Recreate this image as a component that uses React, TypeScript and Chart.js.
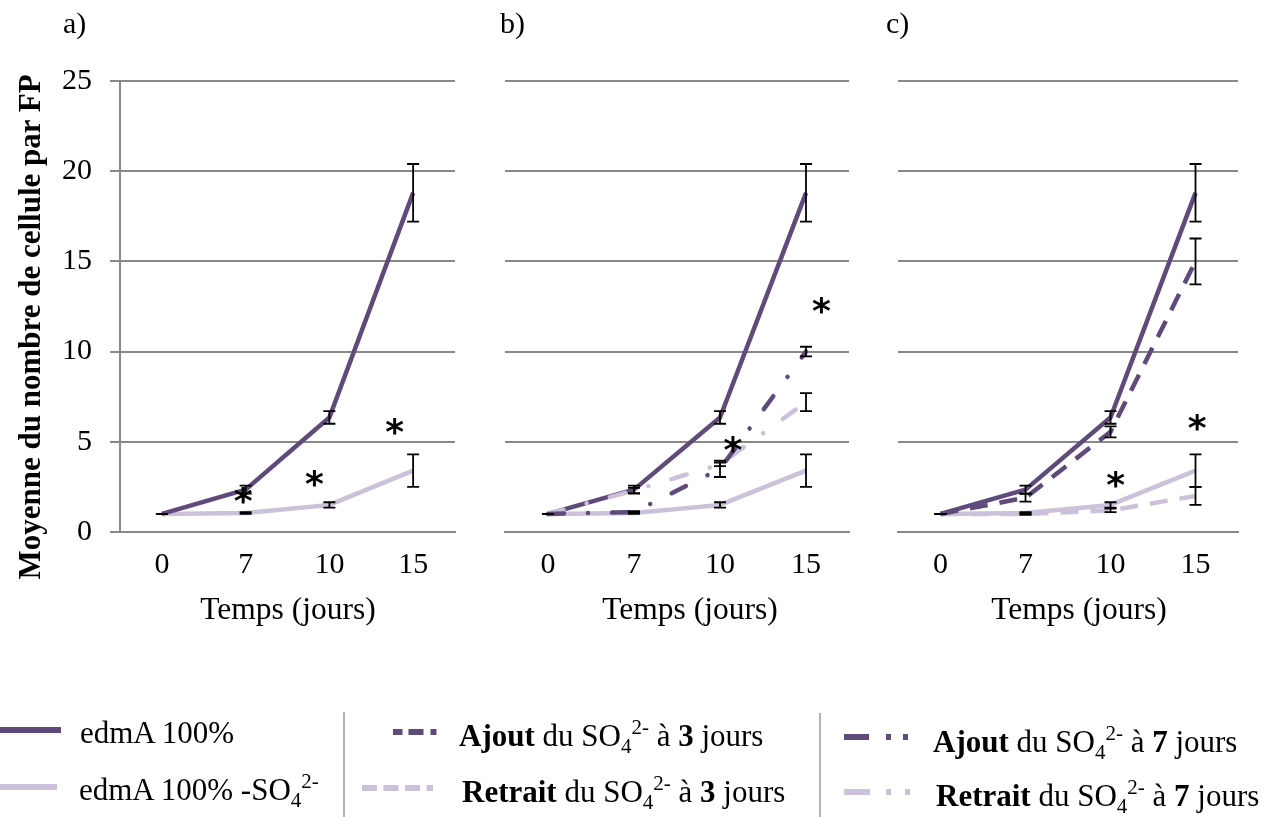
import React, { useEffect, useRef } from "react";
import { Chart, registerables } from "chart.js";

Chart.register(...registerables);

// ---------- data ----------
const days = ["0", "7", "10", "15"];
const yMin = 0;
const yMax = 25;
const yStep = 5;

const edmA = [1, 2.35, 6.35, 18.8];
const edmAErr = [0, 0.22, 0.35, 1.6];
const sansSO4 = [1, 1.05, 1.5, 3.4];
const sansSO4Err = [0, 0.05, 0.15, 0.9];
const ajout3 = [1, 1.9, 5.55, 15.0];
const ajout3Err = [0, 0.22, 0.3, 1.27];
const retrait3 = [1, 1.0, 1.2, 2.0];
const retrait3Err = [0, 0.05, 0.1, 0.5];
const ajout7 = [1, 1.1, 3.5, 10.0];
const ajout7Err = [0, 0.05, 0.45, 0.27];
const retrait7 = [1, 2.3, 3.75, 7.2];
const retrait7Err = [0, 0.15, 0.1, 0.5];

// significance stars: [category position, value]
const starsA = [[0.97, 2.0], [1.82, 2.94], [2.78, 5.84]];
const starsB = [[3.18, 12.58], [2.15, 4.85]];
const starsC = [[2.06, 2.92], [3.02, 6.06]];

const panelLabels = ["a)", "b)", "c)"];
const xTitle = "Temps (jours)";
const yTitle = "Moyenne du nombre de cellule par FP";

// ---------- styles ----------
const DARK = "#604A7B";
const LIGHT = "#CCC1DA";
const GRID = "#888888";
const SERIF = '"Liberation Serif", "Times New Roman", serif';
const DASH = [18, 12];
const DASHDOT = [16, 24, 0.1, 24];

type DS = { data: number[]; err: number[]; color: string; dash: number[] | null };

function lineDs(d: DS) {
  return {
    data: d.data,
    borderColor: d.color,
    backgroundColor: d.color,
    borderWidth: 4.5,
    borderDash: d.dash || [],
    borderCapStyle: d.dash === DASHDOT ? "round" : "butt",
    borderJoinStyle: "round",
    pointRadius: 0,
    tension: 0,
    fill: false,
  };
}

function makeOverlay(errs: number[][], stars: number[][]) {
  return {
    id: "overlay",
    afterDatasetsDraw(chart: any) {
      const { ctx, scales } = chart;
      const x = scales.x;
      const y = scales.y;
      ctx.save();
      ctx.strokeStyle = "#000";
      ctx.lineWidth = 1.8;
      errs.forEach((errArr, di) => {
        const data = chart.data.datasets[di].data as number[];
        errArr.forEach((e, i) => {
          const px = x.getPixelForValue(i);
          const top = y.getPixelForValue(data[i] + e);
          const bot = y.getPixelForValue(data[i] - e);
          ctx.beginPath();
          ctx.moveTo(px, top);
          ctx.lineTo(px, bot);
          ctx.moveTo(px - 6, top);
          ctx.lineTo(px + 6, top);
          ctx.moveTo(px - 6, bot);
          ctx.lineTo(px + 6, bot);
          ctx.stroke();
        });
      });
      ctx.font = 'bold 36px "DejaVu Sans"';
      ctx.fillStyle = "#000";
      ctx.textAlign = "center";
      ctx.textBaseline = "alphabetic";
      const m = ctx.measureText("*");
      const asc = m.actualBoundingBoxAscent;
      const desc = m.actualBoundingBoxDescent;
      stars.forEach(([sx, sv]) => {
        const px = x.getPixelForValue(sx);
        const py = y.getPixelForValue(sv);
        ctx.fillText("*", px, py + (asc - desc) / 2);
      });
      ctx.restore();
    },
  };
}

type PanelProps = {
  left: number;
  width: number;
  areaLeft: number;
  areaRight: number;
  showY: boolean;
  series: DS[];
  stars: number[][];
};

const HEIGHT = 629;

function Panel({ left, width, areaLeft, areaRight, showY, series, stars }: PanelProps) {
  const ref = useRef<HTMLCanvasElement | null>(null);
  useEffect(() => {
    if (!ref.current) return;
    const chart = new Chart(ref.current, {
      type: "line",
      data: {
        labels: days,
        datasets: series.map(lineDs) as any,
      },
      options: {
        responsive: false,
        animation: false,
        layout: { padding: { left: 0, right: left + width - areaRight, top: 81, bottom: 0 } },
        plugins: { legend: { display: false }, tooltip: { enabled: false } },
        scales: {
          x: {
            type: "category",
            offset: true,
            grid: { display: false, drawTicks: false },
            border: { display: true, color: GRID, width: 2 },
            ticks: {
              color: "#000",
              font: { family: SERIF, size: 30 },
              padding: 15,
              maxRotation: 0,
              autoSkip: false,
            },
            afterFit: (s: any) => {
              s.height = HEIGHT - 532;
            },
          },
          y: {
            min: yMin,
            max: yMax,
            ticks: {
              stepSize: yStep,
              display: showY,
              color: "#000",
              font: { family: SERIF, size: 30 },
              padding: 18,
            },
            grid: { color: GRID, lineWidth: 2, drawTicks: showY, tickLength: 10 },
            border: { display: showY, color: GRID, width: 2 },
            afterFit: (s: any) => {
              s.width = areaLeft - left;
            },
          },
        },
      } as any,
      plugins: [makeOverlay(series.map((s) => s.err), stars)],
    });
    return () => chart.destroy();
  }, []);
  return (
    <canvas
      ref={ref}
      width={width}
      height={HEIGHT}
      style={{ position: "absolute", left, top: 0, width, height: HEIGHT }}
    />
  );
}

function Txt({ x, baseline, size = 31, bold = false, center = false, children }: any) {
  return (
    <div
      style={{
        position: "absolute",
        left: x,
        top: baseline - 0.8375 * size,
        fontFamily: SERIF,
        fontSize: size,
        lineHeight: `${size}px`,
        fontWeight: bold ? "bold" : "normal",
        whiteSpace: "nowrap",
        color: "#000",
        transform: center ? "translateX(-50%)" : undefined,
      }}
    >
      {children}
    </div>
  );
}

const Sub = ({ c }: any) => (
  <span style={{ fontSize: 21, position: "relative", top: 7 }}>{c}</span>
);
const Sup = ({ c }: any) => (
  <span style={{ fontSize: 21, position: "relative", top: -12 }}>{c}</span>
);
const SO4 = () => (
  <>
    SO<Sub c="4" />
    <Sup c="2-" />
  </>
);

export default function App() {
  const A: DS[] = [
    { data: edmA, err: edmAErr, color: DARK, dash: null },
    { data: sansSO4, err: sansSO4Err, color: LIGHT, dash: null },
  ];
  const B: DS[] = [
    { data: ajout7, err: ajout7Err, color: DARK, dash: DASHDOT },
    { data: retrait7, err: retrait7Err, color: LIGHT, dash: DASHDOT },
    { data: edmA, err: edmAErr, color: DARK, dash: null },
    { data: sansSO4, err: sansSO4Err, color: LIGHT, dash: null },
  ];
  const C: DS[] = [
    { data: ajout3, err: ajout3Err, color: DARK, dash: DASH },
    { data: retrait3, err: retrait3Err, color: LIGHT, dash: DASH },
    { data: edmA, err: edmAErr, color: DARK, dash: null },
    { data: sansSO4, err: sansSO4Err, color: LIGHT, dash: null },
  ];
  return (
    <div
      style={{
        position: "fixed",
        left: 0,
        top: 0,
        width: 1279,
        height: 817,
        background: "#fff",
        overflow: "hidden",
      }}
    >
      <Panel left={0} width={470} areaLeft={120} areaRight={455} showY={true} series={A} stars={starsA} />
      <Panel left={490} width={380} areaLeft={505} areaRight={849} showY={false} series={B} stars={starsB} />
      <Panel left={880} width={380} areaLeft={898} areaRight={1238} showY={false} series={C} stars={starsC} />

      <Txt x={63} baseline={33} size={30}>{panelLabels[0]}</Txt>
      <Txt x={500} baseline={33} size={30}>{panelLabels[1]}</Txt>
      <Txt x={886} baseline={33} size={30}>{panelLabels[2]}</Txt>

      <Txt x={288} baseline={619} center size={31.5}>{xTitle}</Txt>
      <Txt x={690} baseline={619} center size={31.5}>{xTitle}</Txt>
      <Txt x={1079} baseline={619} center size={31.5}>{xTitle}</Txt>

      <div
        style={{
          position: "absolute",
          left: 30 - 290,
          top: 327 - 18,
          width: 580,
          height: 36,
          lineHeight: "36px",
          textAlign: "center",
          fontFamily: SERIF,
          fontSize: 31,
          fontWeight: "bold",
          whiteSpace: "nowrap",
          transform: "rotate(-90deg)",
        }}
      >
        {yTitle}
      </div>

      <svg
        width={1279}
        height={817}
        style={{ position: "absolute", left: 0, top: 0, pointerEvents: "none" }}
      >
        <line x1={0} y1={730} x2={61} y2={730} stroke={DARK} strokeWidth={6} />
        <line x1={0} y1={787} x2={57} y2={787} stroke={LIGHT} strokeWidth={6} />
        <line x1={393} y1={732} x2={437} y2={732} stroke={DARK} strokeWidth={6} strokeDasharray="9.5 6 15 7 6 100" />
        <line x1={362} y1={788} x2={433} y2={788} stroke={LIGHT} strokeWidth={6} strokeDasharray="15 6.5" />
        <line x1={844} y1={737} x2={910} y2={737} stroke={DARK} strokeWidth={6} strokeDasharray="25 17 5 12 5 100" />
        <line x1={844} y1={792} x2={913} y2={792} stroke={LIGHT} strokeWidth={6} strokeDasharray="26 16 5 14 5 100" />
        <line x1={344} y1={712} x2={344} y2={817} stroke="#999" strokeWidth={1.5} />
        <line x1={820} y1={713} x2={820} y2={817} stroke="#999" strokeWidth={1.5} />
      </svg>

      <Txt x={80} baseline={743}>edmA 100%</Txt>
      <Txt x={79} baseline={800}>
        edmA 100% -<SO4 />
      </Txt>
      <Txt x={459} baseline={746}>
        <b>Ajout</b> du <SO4 /> à <b>3</b> jours
      </Txt>
      <Txt x={462} baseline={802}>
        <b>Retrait</b> du <SO4 /> à <b>3</b> jours
      </Txt>
      <Txt x={933} baseline={752}>
        <b>Ajout</b> du <SO4 /> à <b>7</b> jours
      </Txt>
      <Txt x={936} baseline={806}>
        <b>Retrait</b> du <SO4 /> à <b>7</b> jours
      </Txt>
    </div>
  );
}
